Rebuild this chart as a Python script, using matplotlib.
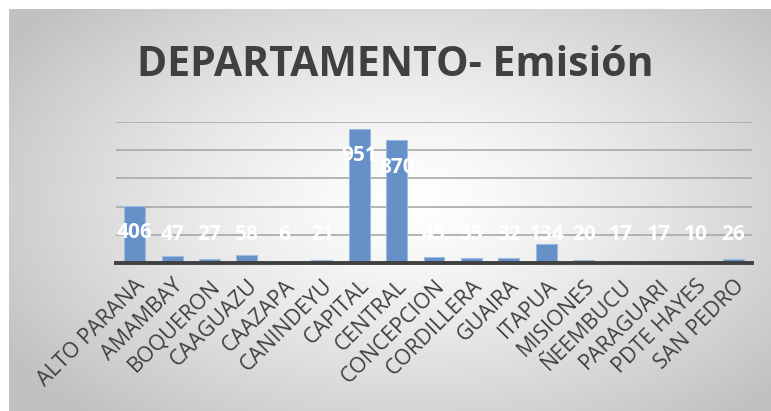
import numpy as np
import matplotlib.pyplot as plt

# emisiones por departamento
departamentos = ['ALTO PARANA', 'AMAMBAY', 'BOQUERON', 'CAAGUAZU', 'CAAZAPA',
                 'CANINDEYU', 'CAPITAL', 'CENTRAL', 'CONCEPCION', 'CORDILLERA',
                 'GUAIRA', 'ITAPUA', 'MISIONES', 'ÑEEMBUCU', 'PARAGUARI',
                 'PDTE HAYES', 'SAN PEDRO']
emision = [406, 47, 27, 58, 6, 21, 951, 870, 45, 35, 32, 134, 20, 17, 17, 10, 26]

W, H = 771, 411
fig = plt.figure(figsize=(W / 100, H / 100), dpi=100)
fig.patch.set_facecolor('white')

# fondo con degradado radial
bg = fig.add_axes([9 / W, 0, 1 - 9 / W, 1 - 9 / H])
yy, xx = np.mgrid[0:200, 0:400]
cx, cy = 210, 95
r = np.sqrt(((xx - cx) / 250.0) ** 2 + ((yy - cy) / 140.0) ** 2)
g = 1.0 - 0.24 * np.clip(r, 0, 1) ** 1.3
bg.imshow(np.dstack([g, g, g]), aspect='auto', extent=[0, 1, 0, 1])
bg.set_axis_off()

ax = fig.add_axes([116 / W, 1 - 263 / H, (752 - 116) / W, (263 - 122) / H])
ax.patch.set_alpha(0)
x = np.arange(len(departamentos))
ax.bar(x, emision, width=0.56, color='#6590c8', edgecolor='#9dbbe0',
       linewidth=0.8, zorder=3)
ax.set_ylim(0, 1000)
ax.set_xlim(-0.5, len(departamentos) - 0.5)
ax.set_yticks([200, 400, 600, 800, 1000])
ax.yaxis.grid(True, color='#a9a9a9', linewidth=1.2, zorder=0)
ax.tick_params(axis='y', left=False, labelleft=False)
ax.tick_params(axis='x', length=0, pad=9)
for s in ['top', 'right', 'left']:
    ax.spines[s].set_visible(False)
ax.spines['bottom'].set_color('#404040')
ax.spines['bottom'].set_linewidth(2.8)
ax.spines['bottom'].set_zorder(4)

ax.set_xticks(x)
ax.set_xticklabels(departamentos, rotation=45, ha='right', va='top',
                   rotation_mode='anchor', fontsize=15.5, color='#404040',
                   family='Open Sans')

# etiquetas de valor, dentro del extremo de la barra
for xi, v in zip(x, emision):
    ax.text(xi, max(v - 190, 200), str(v), ha='center', va='center',
            color='white', fontsize=15, fontweight='bold',
            family='Open Sans', zorder=5)

fig.text(395 / W, 1 - 66 / H, 'DEPARTAMENTO- Emisión', ha='center',
         va='center', fontsize=29.5, fontweight='bold', color='#404040',
         family='Open Sans')

fig.savefig('out.png', dpi=100)
